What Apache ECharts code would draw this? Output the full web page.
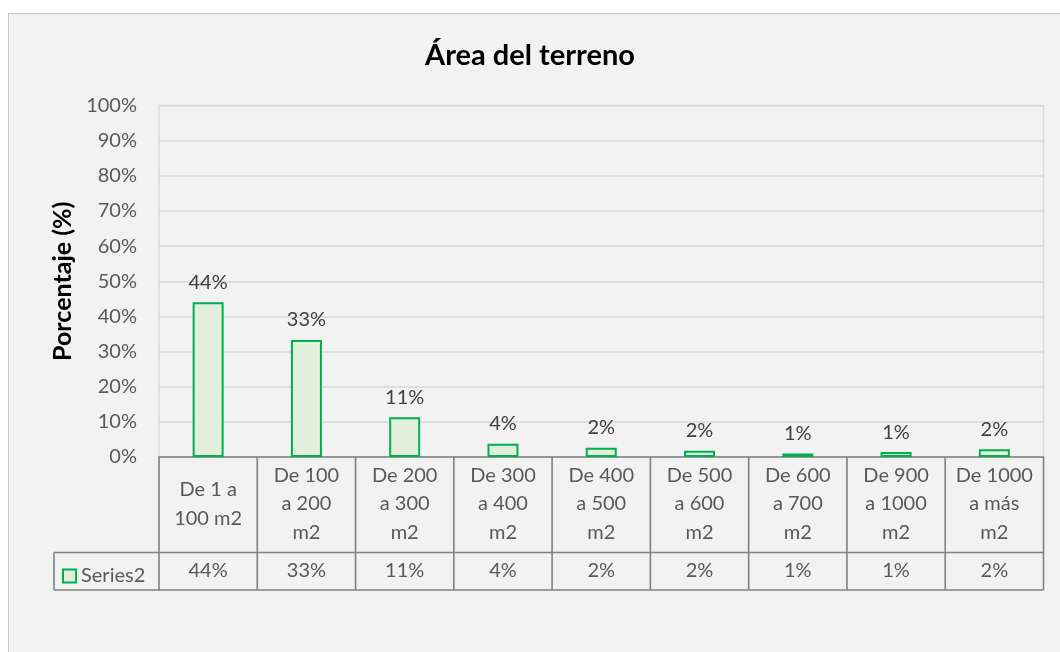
<!DOCTYPE html>
<html>
<head>
<meta charset="utf-8">
<script src="https://cdn.jsdelivr.net/npm/echarts@6/dist/echarts.min.js"></script>
<style>
  html, body { margin: 0; padding: 0; background: #ffffff; }
  #frame { position: absolute; left: 8px; top: 13px; width: 1060px; height: 652px;
           background: #f2f2f2; border-left: 1.5px solid #c8c8c8; border-top: 1.5px solid #c8c8c8; }
  #chart { position: absolute; left: 0; top: 0; width: 1060px; height: 652px; }
</style>
</head>
<body>
<div id="frame"></div>
<div id="chart"></div>
<script>
// ---- data ----
const title = 'Área del terreno';
const yAxisName = 'Porcentaje (%)';
const seriesName = 'Series2';
const categories = [
  'De 1 a\n100 m2',
  'De 100\na 200\nm2',
  'De 200\na 300\nm2',
  'De 300\na 400\nm2',
  'De 400\na 500\nm2',
  'De 500\na 600\nm2',
  'De 600\na 700\nm2',
  'De 900\na 1000\nm2',
  'De 1000\na más\nm2'
];
const values = [44.0, 33.3, 11.3, 3.8, 2.6, 1.8, 1.0, 1.4, 2.2];
const tableLabels = ['44%', '33%', '11%', '4%', '2%', '2%', '1%', '1%', '2%'];

// ---- chart ----
const FONT = 'Lato, "Open Sans", sans-serif';
const TABLE_LINE = '#808080';
const chart = echarts.init(document.getElementById('chart'), null, { renderer: 'canvas' });

const tableData = categories.map((c, i) => [i, 0]);

function renderTable(params, api) {
  const i = api.value(0);
  const p = api.coord([i, 0]);
  const w = api.size([1, 0])[0];
  const x0 = p[0] - w / 2, x1 = p[0] + w / 2;
  const y0 = p[1];
  const yMid = y0 + 95.5, yBot = y0 + 133;
  const ls = { stroke: TABLE_LINE, lineWidth: 1.6 };
  const children = [
    { type: 'line', shape: { x1: x1, y1: y0, x2: x1, y2: yBot }, style: ls },
    { type: 'line', shape: { x1: x0, y1: yMid, x2: x1, y2: yMid }, style: ls },
    { type: 'line', shape: { x1: x0, y1: yBot, x2: x1, y2: yBot }, style: ls },
    { type: 'text', style: { text: categories[i], x: p[0], y: y0 + 47, align: 'center', verticalAlign: 'middle',
        fill: '#595959', font: '20px ' + FONT, lineHeight: 28.5 } },
    { type: 'text', style: { text: tableLabels[i], x: p[0], y: y0 + 114, align: 'center', verticalAlign: 'middle',
        fill: '#595959', font: '20px ' + FONT } }
  ];
  if (i === 0) {
    const xl = x0 - 105;
    children.push(
      { type: 'line', shape: { x1: x0, y1: y0, x2: x0, y2: yBot }, style: ls },
      { type: 'line', shape: { x1: xl, y1: yMid, x2: x0, y2: yMid }, style: ls },
      { type: 'line', shape: { x1: xl, y1: yBot, x2: x0, y2: yBot }, style: ls },
      { type: 'line', shape: { x1: xl, y1: yMid, x2: xl, y2: yBot }, style: ls }
    );
  }
  return { type: 'group', children: children };
}

chart.setOption({
  animation: false,
  backgroundColor: 'transparent',
  textStyle: { fontFamily: FONT },
  title: {
    text: title, left: 'center', top: 36,
    textStyle: { fontFamily: FONT, fontSize: 29, fontWeight: 'bold', color: '#000000' }
  },
  legend: {
    data: [seriesName], left: 57, top: 561, itemWidth: 13, itemHeight: 13, itemGap: 4,
    icon: 'rect', selectedMode: false,
    textStyle: { fontFamily: FONT, fontSize: 20, color: '#595959', padding: [0, 0, 0, 0] }
  },
  grid: {
    left: 159, right: 16.5, top: 105.5, bottom: 195, show: true,
    borderColor: '#d9d9d9', borderWidth: 1.5, backgroundColor: 'transparent'
  },
  xAxis: {
    type: 'category', data: categories,
    axisLine: { show: true, lineStyle: { color: TABLE_LINE, width: 1.6 } },
    axisTick: { show: false }, axisLabel: { show: false }, splitLine: { show: false }
  },
  yAxis: {
    type: 'value', min: 0, max: 100, interval: 10,
    name: yAxisName, nameLocation: 'middle', nameGap: 84, nameRotate: 90,
    nameTextStyle: { fontFamily: FONT, fontSize: 25, fontWeight: 'bold', color: '#000000' },
    axisLine: { show: false }, axisTick: { show: false },
    axisLabel: { formatter: '{value}%', fontFamily: FONT, fontSize: 20, color: '#595959', margin: 22 },
    splitLine: { lineStyle: { color: '#d9d9d9', width: 1.5 } }
  },
  series: [
    {
      name: seriesName, type: 'bar', data: values, barWidth: 31,
      itemStyle: { color: '#e2efda', borderColor: '#00b050', borderWidth: 2 },
      label: {
        show: true, position: 'top', distance: 10,
        formatter: (p) => tableLabels[p.dataIndex],
        fontFamily: FONT, fontSize: 20, color: '#404040'
      },
      z: 3
    },
    {
      name: 'table', type: 'custom', data: tableData, renderItem: renderTable,
      encode: { x: 0, y: 1 }, clip: false, silent: true, z: 4
    }
  ]
});
</script>
</body>
</html>
